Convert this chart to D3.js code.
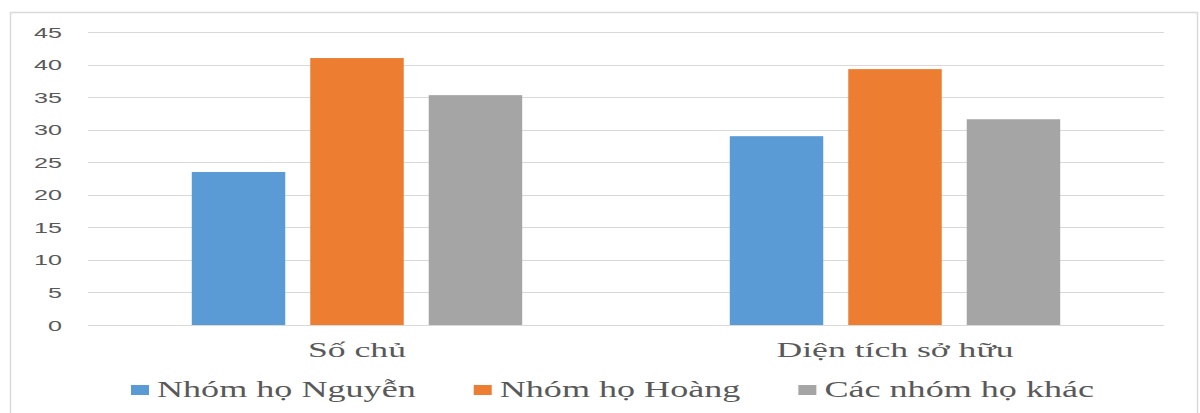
<!DOCTYPE html>
<html>
<head>
<meta charset="utf-8">
<script src="https://cdn.jsdelivr.net/npm/d3@7/dist/d3.min.js"></script>
<style>
  html, body { margin: 0; padding: 0; background: #fff; }
  svg { display: block; }
</style>
</head>
<body>
<svg id="chart" width="1200" height="413"></svg>
<script>
// Categories, series and values
const categories = ["Số chủ", "Diện tích sở hữu"];
const seriesNames = ["Nhóm họ Nguyễn", "Nhóm họ Hoàng", "Các nhóm họ khác"];
const nguyen = [23.5, 29.0];
const hoang = [41.0, 39.3];
const khac = [35.3, 31.6];
const yTicks = [0, 5, 10, 15, 20, 25, 30, 35, 40, 45];

const seriesValues = [nguyen, hoang, khac];
const colors = ["#5B9BD5", "#ED7D31", "#A5A5A5"];

const plot = { left: 88, right: 1164, top: 32, bottom: 325 };
const SX = 1.62; // horizontal text stretch
const textColor = "#595959";

const svg = d3.select("#chart");

// outer frame
svg.append("rect")
  .attr("x", 10.5).attr("y", 12.5)
  .attr("width", 1187).attr("height", 440)
  .attr("fill", "#fff")
  .attr("stroke", "#D9D9D9")
  .attr("stroke-width", 1.5);

const x0 = d3.scaleBand().domain(categories).range([plot.left, plot.right]).paddingInner(0).paddingOuter(0);
const y = d3.scaleLinear().domain([0, 45]).range([plot.bottom, plot.top]);

// bars inside each category band
const x1 = d3.scaleBand().domain(d3.range(seriesNames.length))
  .range([0, x0.bandwidth()]).paddingInner(0.211).paddingOuter(0.876);

// gridlines
svg.append("g")
  .selectAll("line")
  .data(yTicks)
  .join("line")
  .attr("x1", plot.left).attr("x2", plot.right)
  .attr("y1", d => Math.round(y(d)) + 0.5)
  .attr("y2", d => Math.round(y(d)) + 0.5)
  .attr("stroke", "#D9D9D9")
  .attr("stroke-width", 1);

// y tick labels
svg.append("g")
  .selectAll("text")
  .data(yTicks)
  .join("text")
  .attr("transform", d => `translate(62,${y(d)}) scale(${SX},1)`)
  .attr("text-anchor", "end")
  .attr("dominant-baseline", "central")
  .attr("font-family", "'Liberation Sans', Arial, sans-serif")
  .attr("font-size", 15.5)
  .attr("fill", textColor)
  .text(d => d);

// bars
const groups = svg.append("g")
  .selectAll("g")
  .data(categories)
  .join("g")
  .attr("transform", d => `translate(${x0(d)},0)`);

groups.selectAll("rect")
  .data((c, ci) => seriesValues.map((vals, si) => ({ si, v: vals[ci] })))
  .join("rect")
  .attr("x", d => x1(d.si))
  .attr("width", x1.bandwidth())
  .attr("y", d => y(d.v))
  .attr("height", d => y(0) - y(d.v))
  .attr("fill", d => colors[d.si]);

// category labels
svg.append("g")
  .selectAll("text")
  .data(categories)
  .join("text")
  .attr("transform", d => `translate(${x0(d) + x0.bandwidth() / 2},357) scale(${SX},1)`)
  .attr("text-anchor", "middle")
  .attr("font-family", "'Liberation Serif', 'Times New Roman', serif")
  .attr("font-size", 22)
  .attr("fill", textColor)
  .text(d => d);

// legend
const legend = svg.append("g");
const items = legend.selectAll("g")
  .data(seriesNames)
  .join("g");
items.append("rect")
  .attr("x", 0).attr("y", -12)
  .attr("width", 18).attr("height", 10)
  .attr("fill", (d, i) => colors[i]);
const labels = items.append("text")
  .attr("transform", `translate(26,0) scale(${SX},1)`)
  .attr("font-family", "'Liberation Serif', 'Times New Roman', serif")
  .attr("font-size", 22.3)
  .attr("fill", textColor)
  .text(d => d);

const widths = labels.nodes().map(n => n.getComputedTextLength() * SX);
let cx = 131;
items.each(function (d, i) {
  d3.select(this).attr("transform", `translate(${cx},397)`);
  cx += 26 + widths[i] + 58;
});
</script>
</body>
</html>
